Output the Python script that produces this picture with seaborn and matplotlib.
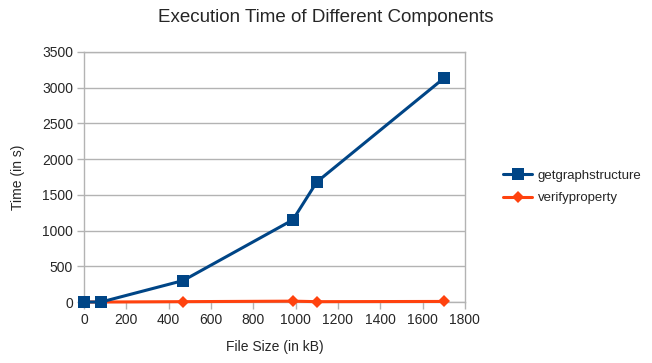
import pandas as pd
import seaborn as sns
import matplotlib.pyplot as plt

# values
file_size = [0, 80, 468, 987, 1100, 1700]
getgraph = [0, 0, 300, 1150, 1680, 3130]
verify = [0, 0, 5, 12, 5, 8]

df = pd.DataFrame({
    "size": file_size * 2,
    "time": getgraph + verify,
    "series": ["getgraphstructure"] * 6 + ["verifyproperty"] * 6,
})

sns.set_style("white")
plt.rcParams["font.family"] = ["Liberation Sans", "DejaVu Sans"]

colors = {"getgraphstructure": "#004586", "verifyproperty": "#ff420e"}

fig = plt.figure(figsize=(6.52, 3.63), dpi=100)
ax = fig.add_axes([0.129, 0.168, 0.584, 0.689])

sns.lineplot(
    data=df[df.series == "verifyproperty"], x="size", y="time",
    color=colors["verifyproperty"], lw=2.2, marker="D", markersize=6,
    markeredgewidth=0, ax=ax, label="verifyproperty", zorder=3,
)
sns.lineplot(
    data=df[df.series == "getgraphstructure"], x="size", y="time",
    color=colors["getgraphstructure"], lw=2.2, marker="s", markersize=8.5,
    markeredgewidth=0, ax=ax, label="getgraphstructure", zorder=4,
)
for ln in ax.lines:
    ln.set_clip_on(False)

ax.set_xlim(0, 1800)
ax.set_ylim(0, 3500)
ax.set_xticks(range(0, 1801, 200))
ax.set_yticks(range(0, 3501, 500))
ax.grid(axis="y", color="#b3b3b3", lw=1)
ax.set_axisbelow(True)
for s in ax.spines.values():
    s.set_color("#b3b3b3")
    s.set_linewidth(1)
ax.tick_params(axis="both", which="both", length=5, width=1, color="#b3b3b3",
               labelsize=10, direction="out", left=True, bottom=True, pad=3)
ax.set_xlabel("File Size (in kB)", fontsize=10, labelpad=9)
ax.set_ylabel("Time (in s)", fontsize=10, labelpad=12)

fig.suptitle("Execution Time of Different Components", fontsize=13.5, x=0.5, y=0.975)

handles, labels = ax.get_legend_handles_labels()
order = [labels.index("getgraphstructure"), labels.index("verifyproperty")]
ax.legend([handles[i] for i in order], [labels[i] for i in order],
          loc="center left", bbox_to_anchor=(1.07, 0.46), frameon=False,
          fontsize=9.5, handlelength=2.2, handletextpad=0.4, labelspacing=0.75)

fig.savefig("out.png", dpi=100)
